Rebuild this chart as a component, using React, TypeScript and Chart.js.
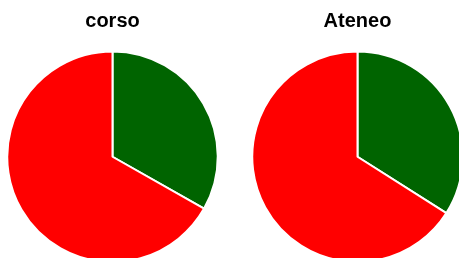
import React, { useEffect, useRef } from "react";
import { Chart, registerables } from "chart.js";

Chart.register(...registerables);

const labels = ["Sì", "No"];
const corsoValues = [33.2, 66.8];
const ateneoValues = [34.0, 66.0];
const titles = ["corso", "Ateneo"];
const colors = ["#006400", "#FF0000"];

function Pie({ title, values, left }: { title: string; values: number[]; left: number }) {
  const ref = useRef<HTMLCanvasElement | null>(null);
  useEffect(() => {
    if (!ref.current) return;
    const chart = new Chart(ref.current, {
      type: "pie",
      data: {
        labels,
        datasets: [
          {
            data: values,
            backgroundColor: colors,
            borderColor: "#ffffff",
            borderWidth: 2,
          },
        ],
      },
      options: {
        responsive: false,
        animation: false,
        layout: { padding: 0 },
        plugins: {
          legend: { display: false },
          tooltip: { enabled: false },
          title: {
            display: true,
            text: title,
            color: "#000000",
            font: { family: "'Liberation Sans', Arial, sans-serif", size: 20, weight: "bold" },
            padding: { top: 9.5, bottom: 17 },
          },
        },
      },
    });
    return () => chart.destroy();
  }, [title, values]);
  return (
    <canvas
      ref={ref}
      width={225}
      height={263}
      style={{ position: "absolute", left, top: 0, width: 225, height: 263 }}
    />
  );
}

export default function App() {
  return (
    <div
      style={{
        position: "fixed",
        left: 0,
        top: 0,
        width: 459,
        height: 258,
        overflow: "hidden",
        background: "#ffffff",
      }}
    >
      <Pie title={titles[0]} values={corsoValues} left={0} />
      <Pie title={titles[1]} values={ateneoValues} left={245} />
    </div>
  );
}
